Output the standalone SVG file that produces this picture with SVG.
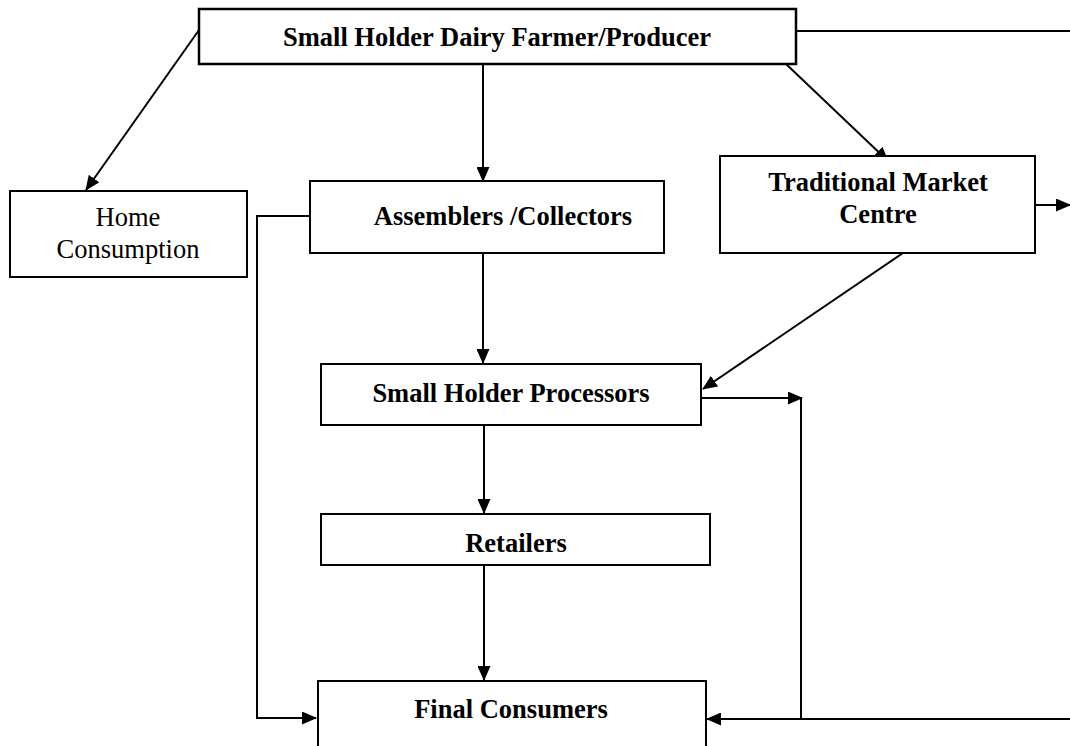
<svg xmlns="http://www.w3.org/2000/svg" width="1070" height="746" viewBox="0 0 1070 746">
<style>
.box{fill:#fff;stroke:#000;stroke-width:2}
.b{font-family:"Liberation Serif",serif;font-weight:bold;font-size:26.5px;text-anchor:middle}
.n{font-family:"Liberation Serif",serif;font-size:26.5px;text-anchor:middle}
.c{fill:none;stroke:#000;stroke-width:2}
</style>
<defs>
<marker id="ah" markerWidth="15" markerHeight="13" refX="14" refY="6.5" orient="auto" markerUnits="userSpaceOnUse">
<path d="M0,0 L15,6.5 L0,13 Z" fill="#000"/>
</marker>
</defs>
<rect width="1070" height="746" fill="#fff"/>
<g id="connectors">
<line class="c" x1="796" y1="31" x2="1070" y2="31"/>
<line class="c" x1="199" y1="30" x2="86" y2="190" marker-end="url(#ah)"/>
<line class="c" x1="483" y1="64" x2="483" y2="181" marker-end="url(#ah)"/>
<line class="c" x1="786" y1="64" x2="888" y2="161" marker-end="url(#ah)"/>
<line class="c" x1="1035" y1="205" x2="1070" y2="205" marker-end="url(#ah)"/>
<line class="c" x1="483" y1="253" x2="483" y2="363" marker-end="url(#ah)"/>
<line class="c" x1="903" y1="253" x2="703" y2="389" marker-end="url(#ah)"/>
<polyline class="c" points="310,216 257,216 257,718 316,718" marker-end="url(#ah)"/>
<line class="c" x1="702" y1="398" x2="802" y2="398" marker-end="url(#ah)"/>
<line class="c" x1="801" y1="398" x2="801" y2="719"/>
<line class="c" x1="484" y1="425" x2="484" y2="513" marker-end="url(#ah)"/>
<line class="c" x1="484" y1="565" x2="484" y2="680" marker-end="url(#ah)"/>
<line class="c" x1="1070" y1="719" x2="707" y2="719" marker-end="url(#ah)"/>
</g>
<g id="farmer"><rect class="box" x="199" y="9" width="597" height="55" style="stroke-width:2.5"/><text class="b" x="497" y="46">Small Holder Dairy Farmer/Producer</text></g>
<g id="home"><rect class="box" x="10" y="191" width="237" height="86"/><text class="n" x="128" y="226">Home</text><text class="n" x="128" y="258">Consumption</text></g>
<g id="assemblers"><rect class="box" x="310" y="181" width="354" height="72"/><text class="b" x="503" y="225">Assemblers /Collectors</text></g>
<g id="market"><rect class="box" x="720" y="156" width="315" height="97"/><text class="b" x="878" y="191">Traditional Market</text><text class="b" x="878" y="223">Centre</text></g>
<g id="processors"><rect class="box" x="321" y="364" width="380" height="61"/><text class="b" x="511" y="402">Small Holder Processors</text></g>
<g id="retailers"><rect class="box" x="321" y="514" width="389" height="51"/><text class="b" x="516" y="552">Retailers</text></g>
<g id="consumers"><rect class="box" x="318" y="681" width="388" height="80"/><text class="b" x="511" y="718">Final Consumers</text></g>
</svg>
